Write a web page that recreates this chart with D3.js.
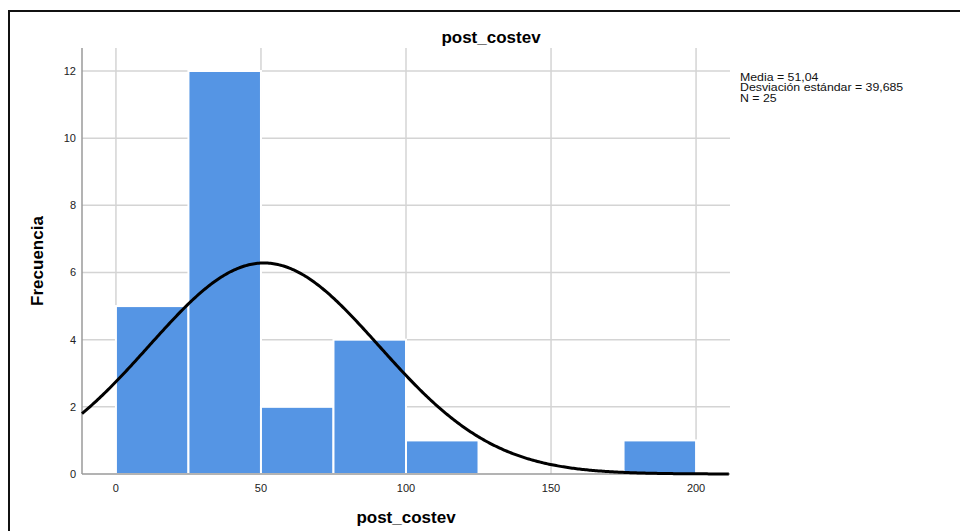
<!DOCTYPE html>
<html><head><meta charset="utf-8">
<script src="https://cdn.jsdelivr.net/npm/d3@7"></script>
<style>body{margin:0;background:#fff;}svg{display:block;font-family:"Liberation Sans",Arial,sans-serif;}</style>
</head><body>
<svg id="c" width="960" height="531"></svg>
<script>
const binStarts = [0, 25, 50, 75, 100, 125, 150, 175];
const binWidth = 25;
const counts = [5, 12, 2, 4, 1, 0, 0, 1];
const xTicks = [0, 50, 100, 150, 200];
const yTicks = [0, 2, 4, 6, 8, 10, 12];
const mean = 51.04, sd = 39.685, n = 25;
const statsText = ["Media = 51,04", "Desviación estándar = 39,685", "N = 25"];

const svg = d3.select("#c");
const L = 82, R = 730, T = 48, B = 474;
const x = d3.scaleLinear().domain([-11.7, 211.7]).range([L, R]);
const y = d3.scaleLinear().domain([0, 12]).range([B, 71]);

// frame
svg.append("path").attr("d", `M9,531 V11 H960`).attr("fill","none").attr("stroke","#111").attr("stroke-width",2);

// grid
svg.append("g").selectAll("line").data(yTicks.filter(d=>d>0)).join("line")
  .attr("x1", L).attr("x2", R).attr("y1", d=>y(d)).attr("y2", d=>y(d))
  .attr("stroke","#d4d4d4").attr("stroke-width",1.5);
svg.append("g").selectAll("line").data(xTicks).join("line")
  .attr("x1", d=>x(d)).attr("x2", d=>x(d)).attr("y1", T).attr("y2", B)
  .attr("stroke","#d4d4d4").attr("stroke-width",1.5);

// bars
svg.append("g").selectAll("rect").data(binStarts.map((s,i)=>({s, c:counts[i]})).filter(d=>d.c>0)).join("rect")
  .attr("x", d=>x(d.s)).attr("width", d=>x(d.s+binWidth)-x(d.s))
  .attr("y", d=>y(d.c)).attr("height", d=>y(0)-y(d.c))
  .attr("fill","#5595e4").attr("stroke","#fff").attr("stroke-width",2);

// axes lines
svg.append("line").attr("x1",L).attr("x2",L).attr("y1",T).attr("y2",B).attr("stroke","#9a9a9a").attr("stroke-width",1.5);
svg.append("line").attr("x1",L).attr("x2",R).attr("y1",B).attr("y2",B).attr("stroke","#9a9a9a").attr("stroke-width",1.5);

// normal curve
const xs = d3.range(-11.7, 211.71, 0.5);
const dens = v => n*binWidth/(sd*Math.sqrt(2*Math.PI))*Math.exp(-0.5*((v-mean)/sd)**2);
svg.append("path").datum(xs)
  .attr("d", d3.line().x(d=>x(d)).y(d=>y(dens(d))))
  .attr("fill","none").attr("stroke","#000").attr("stroke-width",3);

// tick labels
svg.append("g").selectAll("text").data(yTicks).join("text")
  .attr("x", L-6).attr("y", d=>y(d)).attr("dy","0.35em").attr("text-anchor","end")
  .attr("font-size",11).attr("fill","#222").text(d=>d);
svg.append("g").selectAll("text").data(xTicks).join("text")
  .attr("x", d=>x(d)).attr("y", B+18).attr("text-anchor","middle")
  .attr("font-size",11).attr("fill","#222").text(d=>d);

// titles
svg.append("text").attr("x",491).attr("y",43).attr("text-anchor","middle")
  .attr("font-size",17).attr("font-weight","bold").text("post_costev");
svg.append("text").attr("x",(L+R)/2).attr("y",523).attr("text-anchor","middle")
  .attr("font-size",17).attr("font-weight","bold").text("post_costev");
svg.append("text").attr("transform",`translate(43,${(T+B)/2}) rotate(-90)`).attr("text-anchor","middle")
  .attr("font-size",17).attr("font-weight","bold").text("Frecuencia");

// stats
svg.append("g").attr("transform","translate(740,0) scale(1.14,1)")
  .selectAll("text").data(statsText).join("text")
  .attr("x",0).attr("y",(d,i)=>81+i*10.5).attr("font-size",10.8).attr("fill","#111").text(d=>d);
</script>
</body></html>
